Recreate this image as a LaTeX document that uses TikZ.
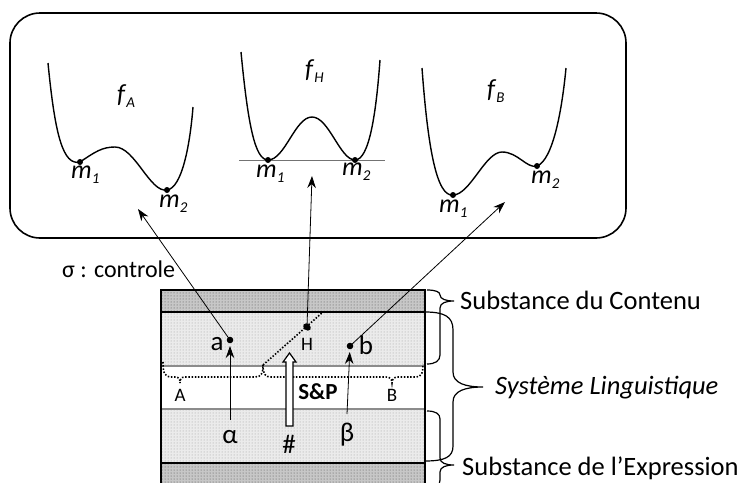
\documentclass[tikz,border=0pt]{standalone}
\usepackage{fontspec}
\setmainfont{Carlito}
\usetikzlibrary{arrows.meta,patterns}
\newcommand{\msub}[2]{\textit{#1}\raisebox{-5pt}{\fontsize{15}{15}\selectfont\itshape #2}}
\begin{document}
\begin{tikzpicture}[x=1pt,y=-1pt,
  arr/.style={-{Stealth[length=12pt,width=8.5pt]}, line width=0.8pt},
  curve/.style={line width=1.4pt},
  dotbr/.style={line width=1.6pt, dash pattern=on 1.5pt off 1.7pt},
  bracestyle/.style={line width=1.2pt},
  mlbl/.style={font=\fontsize{26}{30}\selectfont, inner sep=0pt, anchor=base west},
  txt/.style={font=\fontsize{26.5}{30}\selectfont, inner sep=0pt, anchor=base west},
  lbl/.style={font=\fontsize{27}{30}\selectfont, inner sep=0pt, anchor=base},
  small/.style={font=\fontsize{19}{22}\selectfont, inner sep=0pt, anchor=base},
  pt/.style={fill=black}
]
\useasboundingbox (0,0) rectangle (739,482);

% ---------- top rounded box ----------
\draw[line width=1.6pt, rounded corners=30pt] (10,13) rectangle (626,238);

% ---------- f_A ----------
\coordinate (A1) at (80,162);
\coordinate (A2) at (167,190);
\draw[curve] (48,63) .. controls (55,135) and (63,166) .. (A1)
  .. controls (95,152) and (102,147) .. (115,147)
  .. controls (135,147) and (150,193) .. (A2)
  .. controls (182,188) and (190,145) .. (193,107);
\fill (A1) circle (3pt);
\fill (A2) circle (3pt);
\node[mlbl] (fA) at (117,102) {\msub{f}{A}};
\node[mlbl] (mA1) at (71,178) {\msub{m}{1}};
\node[mlbl] (mA2) at (159,207) {\msub{m}{2}};

% ---------- f_H ----------
\coordinate (H1) at (268,160);
\coordinate (H2) at (355,160);
\draw[line width=1pt, black!55] (239,160) -- (385,160);
\draw[curve] (241,52) .. controls (248,125) and (255,160) .. (H1)
  .. controls (285,160) and (295,117) .. (312,117)
  .. controls (329,117) and (340,160) .. (H2)
  .. controls (369,160) and (376,115) .. (380,60);
\fill (H1) circle (3pt);
\fill (H2) circle (3pt);
\node[mlbl] (fH) at (305,77) {\msub{f}{H}};
\node[mlbl] (mH1) at (256,177) {\msub{m}{1}};
\node[mlbl] (mH2) at (342,175) {\msub{m}{2}};

% ---------- f_B ----------
\coordinate (B1) at (453,195);
\coordinate (B2) at (537,166);
\draw[curve] (422,68) .. controls (428,150) and (437,197) .. (B1)
  .. controls (470,195) and (485,152) .. (502,152)
  .. controls (518,152) and (527,169) .. (B2)
  .. controls (553,160) and (562,110) .. (566,68);
\fill (B1) circle (3pt);
\fill (B2) circle (3pt);
\node[mlbl] (fB) at (487,97) {\msub{f}{B}};
\node[mlbl] (mB1) at (439,212) {\msub{m}{1}};
\node[mlbl] (mB2) at (531,183) {\msub{m}{2}};

% ---------- bottom rectangle ----------
\fill[black!22] (161,290) rectangle (425,312);
\fill[pattern=dots, pattern color=black!70] (161,290) rectangle (425,312);
\fill[black!8] (161,312) rectangle (425,366);
\fill[pattern=dots, pattern color=black!40] (161,312) rectangle (425,366);
\fill[black!8] (161,409) rectangle (425,463);
\fill[pattern=dots, pattern color=black!40] (161,409) rectangle (425,463);
\fill[black!22] (161,463) rectangle (425,495);
\fill[pattern=dots, pattern color=black!70] (161,463) rectangle (425,495);
\draw[line width=1.2pt, black!45] (161,366) -- (425,366);
\draw[line width=1.2pt, black!45] (161,409) -- (425,409);
\draw[line width=1.5pt] (161,312) -- (425,312);
\draw[line width=1.5pt] (161,463) -- (425,463);
\draw[line width=1.5pt] (161,495) -- (161,290) -- (425,290) -- (425,495);

% ---------- dotted braces ----------
\coordinate (Atip) at (180,383);
\coordinate (Btip) at (392,383);
\coordinate (J) at (263,365);
\coordinate (Dtop) at (323,312);
\draw[dotbr] (163,362) .. controls (163,374) and (165,377) .. (172,377) -- (175,377)
  .. controls (179,377) and (180,379) .. (Atip)
  .. controls (180,379) and (181,377) .. (185,377) -- (255,377)
  .. controls (261,377) and (263,374) .. (J);
\draw[dotbr] (J) .. controls (263,374) and (265,377) .. (271,377) -- (386,377)
  .. controls (390,377) and (392,379) .. (Btip)
  .. controls (392,379) and (394,377) .. (398,377) -- (416,377)
  .. controls (421,377) and (423,374) .. (423,364);
\draw[dotbr] (J) -- (Dtop);
\node[small] (Albl) at (180,401) {A};
\node[small] (Blbl) at (392,401) {B};

% ---------- points ----------
\coordinate (a) at (230,340);
\coordinate (H) at (307,327);
\coordinate (b) at (350,346);
\fill (a) circle (3.3pt);
\fill[rotate around={-40:(H)}] (H) ellipse (4.2pt and 3.2pt);
\fill (b) circle (3.3pt);
\node[lbl] (alab) at (217,350) {a};
\node[small] (Hlab) at (307,350) {H};
\node[lbl] (blab) at (366,354) {b};
\node[lbl] (alpha) at (230,443) {α};
\node[lbl] (beta) at (347,441) {β};
\node[lbl] (hash) at (289,453) {\#};
\node[font=\fontsize{23}{26}\selectfont\bfseries, inner sep=0pt, anchor=base] (SP) at (318,399) {S\&P};

% hollow arrow S&P
\draw[line width=1.2pt, fill=white] (286,426) -- (286,362) -- (283,362) -- (289.5,353) -- (296,362) -- (293,362) -- (293,426) -- cycle;

% arrows alpha, beta
\coordinate (alphatop) at (230,420);
\coordinate (betatop) at (347,414);
\draw[arr, shorten >=6pt] (alphatop) -- (a);
\draw[arr, shorten >=6pt] (betatop) -- (b);

% arrows to functions
\coordinate (tA) at (138,209);
\coordinate (tH) at (312,176);
\coordinate (tB) at (505,202);
\draw[arr] (a) -- (tA);
\draw[arr] (H) -- (tH);
\draw[arr] (b) -- (tB);

\node[font=\fontsize{24}{28}\selectfont, inner sep=0pt, anchor=base west] (sigma) at (62,277) {σ : controle};

% ---------- right braces ----------
\draw[bracestyle] (427,290) .. controls (436,290) and (440,292) .. (440,295)
  .. controls (440,299) and (446,301) .. (454,301)
  .. controls (446,301) and (440,303) .. (440,308) -- (440,355)
  .. controls (440,361) and (435,364) .. (427,364);
\node[txt] (sc) at (460,309) {Substance du Contenu};

\draw[bracestyle] (425,312) .. controls (445,312) and (453,317) .. (453,330) -- (453,372)
  .. controls (453,383) and (465,387) .. (483,387)
  .. controls (465,387) and (453,391) .. (453,402) -- (453,446)
  .. controls (453,457) and (445,461) .. (425,461);
\node[txt, font=\fontsize{26.5}{30}\selectfont\itshape] (sl) at (495,394) {Système Linguistique};

\draw[bracestyle] (427,411) .. controls (436,411) and (440,414) .. (440,419) -- (440,458)
  .. controls (440,463) and (446,465) .. (454,465)
  .. controls (446,465) and (440,467) .. (440,472) -- (440,480)
  .. controls (440,486) and (436,488) .. (427,488);
\node[txt] (se) at (462,475) {Substance de l’Expression};
\end{tikzpicture}
\end{document}
